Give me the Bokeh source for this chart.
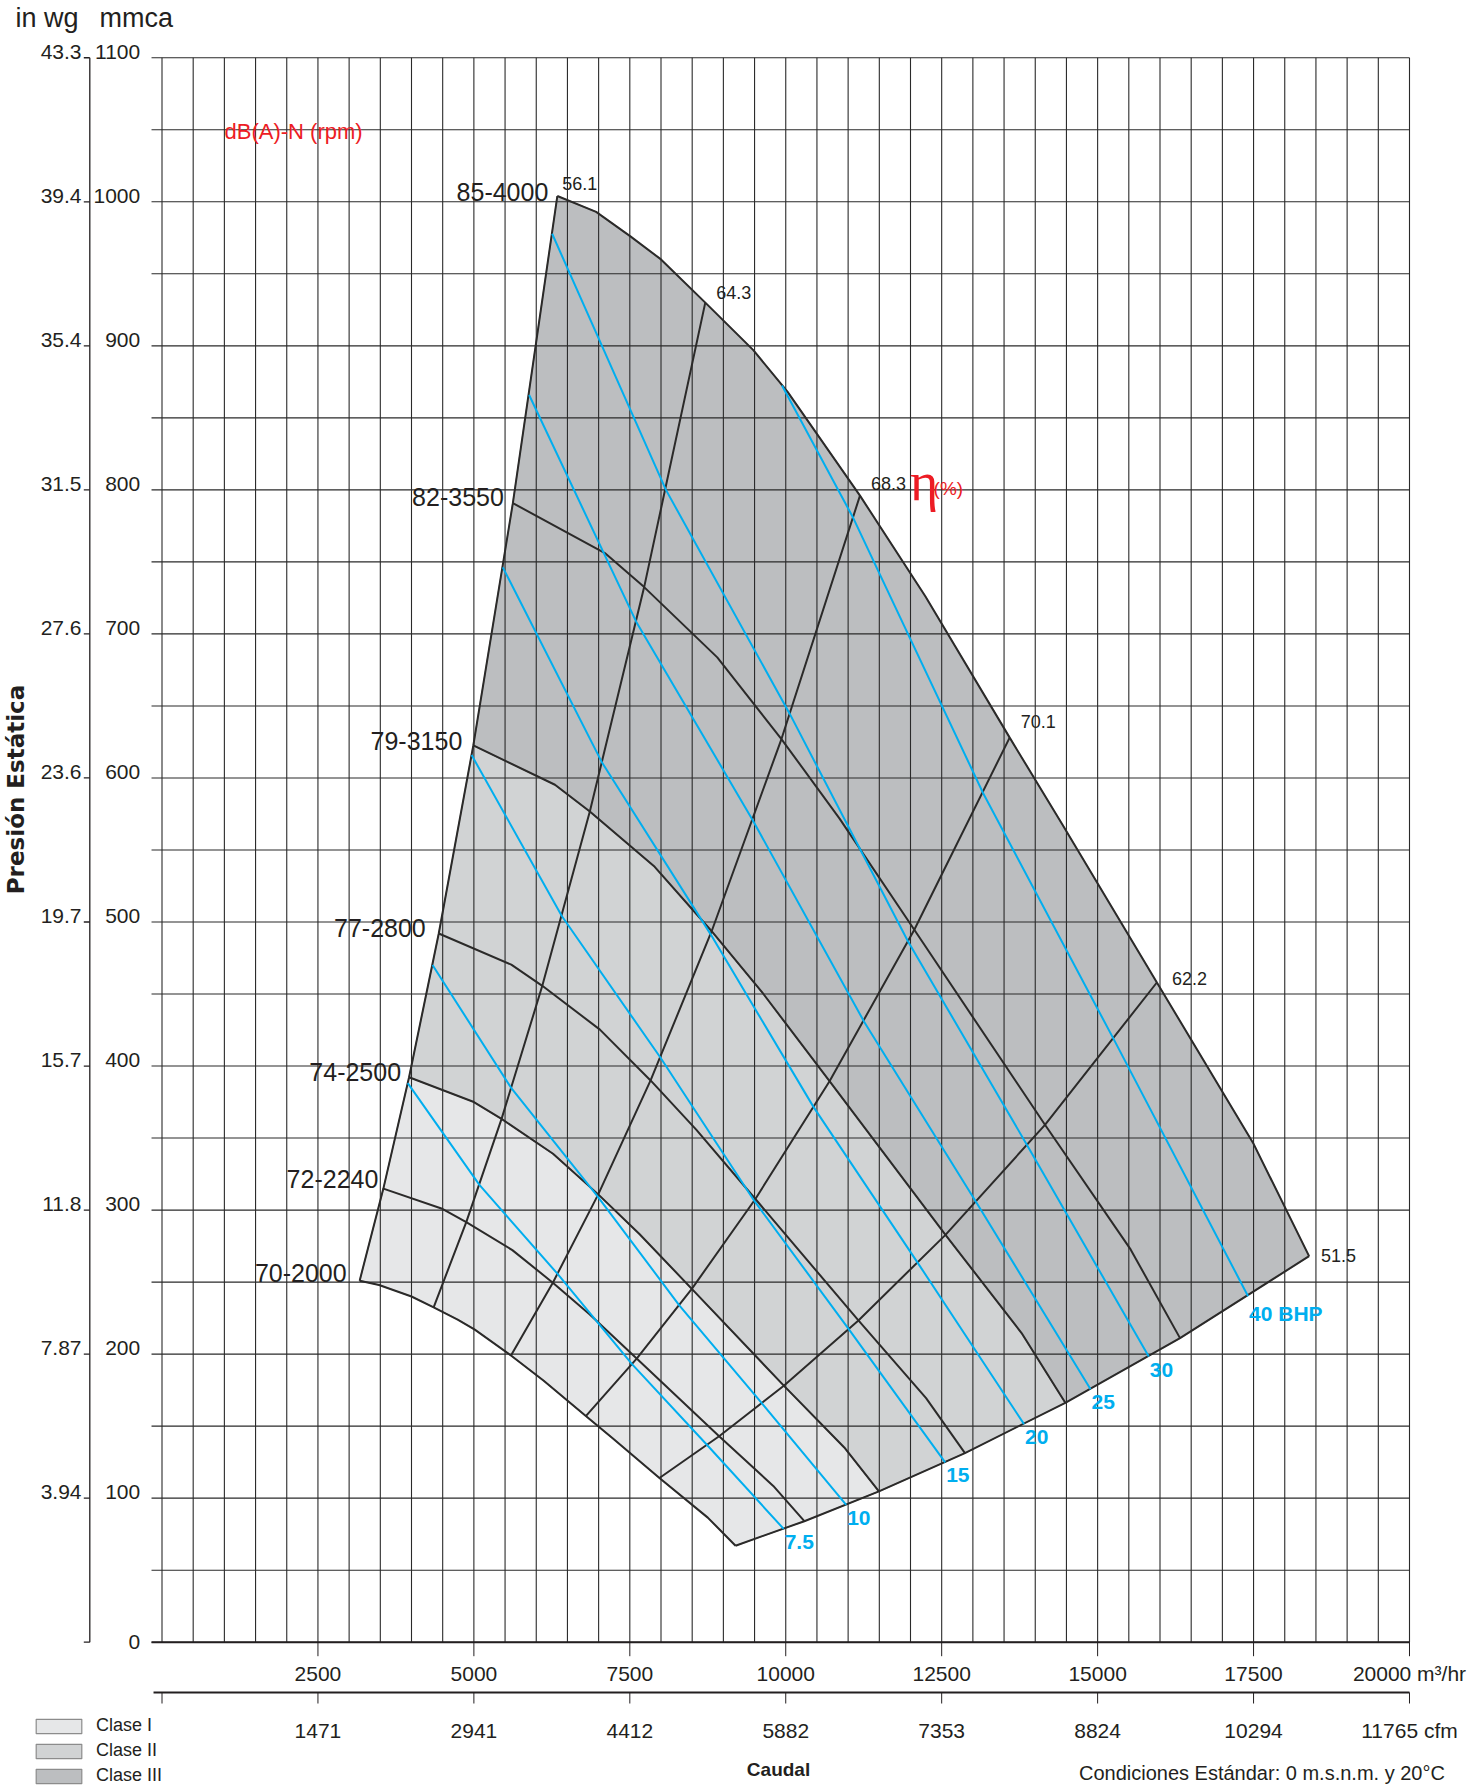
import math
from bokeh.plotting import figure
from bokeh.models import Range1d, Label, ColumnDataSource, Legend, LegendItem
from bokeh.core.properties import value
from bokeh.embed import file_html
from bokeh.resources import INLINE

# ---------------------------------------------------------------- data
# rpm curves (caudal m3/hr, presion estatica mmca)
rpm_labels = ["70-2000", "72-2240", "74-2500", "77-2800", "79-3150", "82-3550", "85-4000"]

q_70_2000 = [3169, 3480, 4000, 4355, 4740, 5015, 5595, 6120, 6795, 7215, 7975, 8750, 9195]
p_70_2000 = [251, 248, 240, 232.5, 224, 217, 199, 181.5, 157, 142, 114, 86.5, 67]

q_72_2240 = [3549, 4480, 4878, 5617, 6266, 6854, 7610, 8932, 9800, 10298]
p_72_2240 = [314.9, 301.1, 291.6, 272.2, 249.6, 227.7, 196.9, 143.0, 108.5, 84.0]

q_74_2500 = [3961, 5000, 5444, 6269, 6994, 7650, 8494, 9969, 10938, 11494]
p_74_2500 = [392.2, 375.0, 363.3, 339.1, 310.9, 283.6, 245.3, 178.1, 135.2, 104.7]

q_77_2800 = [4437, 5600, 6097, 7021, 7833, 8568, 9513, 11165, 12250, 12873]
p_77_2800 = [492.0, 470.4, 455.7, 425.3, 390.0, 355.7, 307.7, 223.4, 169.5, 131.3]

q_79_3150 = [4991, 6300, 6859, 7899, 8812, 9639, 10702, 12561, 13781, 14482]
p_79_3150 = [622.6, 595.3, 576.7, 538.3, 493.6, 450.2, 389.5, 282.8, 214.6, 166.2]

q_82_3550 = [5625, 7100, 7730, 8902, 9931, 10863, 12061, 14156, 15531, 16321]
p_82_3550 = [790.8, 756.1, 732.5, 683.7, 627.0, 571.8, 494.6, 359.2, 272.5, 211.1]

q_85_4000 = [6338, 6960, 7510, 8000, 8710, 9480, 10030, 11190, 12240, 13590, 14430, 15950, 17500, 18390]
p_85_4000 = [1004, 993, 976, 960, 930, 897, 868, 796, 726, 628, 568, 458, 346, 268]

# efficiency lines eta (%)
eff_labels = ["56.1", "64.3", "68.3", "70.1", "62.2", "51.5"]
eff_q_56_1 = [3169, 3549, 3961, 4437, 4991, 5625, 6338]
eff_p_56_1 = [251, 314.9, 392.2, 492.0, 622.6, 790.8, 1004]
eff_q_64_3 = [4355, 4878, 5444, 6097, 6859, 7730, 8710]
eff_p_64_3 = [232.5, 291.6, 363.3, 455.7, 576.7, 732.5, 930]
eff_q_68_3 = [5595, 6266, 6994, 7833, 8812, 9931, 11190]
eff_p_68_3 = [199, 249.6, 310.9, 390.0, 493.6, 627.0, 796]
eff_q_70_1 = [6795, 7610, 8494, 9513, 10702, 12061, 13590]
eff_p_70_1 = [157, 196.9, 245.3, 307.7, 389.5, 494.6, 628]
eff_q_62_2 = [7975, 8932, 9969, 11165, 12561, 14156, 15950]
eff_p_62_2 = [114, 143.0, 178.1, 223.4, 282.8, 359.2, 458]
eff_q_51_5 = [9195, 10298, 11494, 12873, 14482, 16321, 18390]
eff_p_51_5 = [67, 84.0, 104.7, 131.3, 166.2, 211.1, 268]

# brake horse power lines
bhp_labels = ["7.5", "10", "15", "20", "25", "30", "40 BHP"]
bhp_q_7_5 = [3940, 5089, 6342, 7535, 8739, 9966]
bhp_p_7_5 = [388.1, 317.5, 255.7, 193.1, 136.9, 78.7]
bhp_q_10 = [4337, 5601, 6980, 8293, 9619, 10969]
bhp_p_10 = [470.1, 384.6, 309.7, 233.9, 165.8, 95.3]
bhp_q_15 = [4964, 6412, 7990, 9494, 11010, 12556]
bhp_p_15 = [615.9, 504.0, 405.9, 306.5, 217.3, 124.9]
bhp_q_20 = [5464, 7057, 8794, 10449, 12119, 13820]
bhp_p_20 = [746.2, 610.5, 491.6, 371.3, 263.2, 151.4]
bhp_q_25 = [5886, 7602, 9473, 11256, 13054, 14887]
bhp_p_25 = [865.9, 708.5, 570.5, 430.8, 305.5, 175.6]
bhp_q_30 = [6255, 8079, 10067, 11961, 13872, 15820]
bhp_p_30 = [977.8, 800.0, 644.3, 486.5, 344.9, 198.3]
bhp_q_40 = [9940, 11081, 13165, 15268, 17412]
bhp_p_40 = [872.5, 780.6, 589.4, 417.8, 240.2]

class_labels = ["Clase I", "Clase II", "Clase III"]

# axes
mmca_ticks = [0, 100, 200, 300, 400, 500, 600, 700, 800, 900, 1000, 1100]
mmca_tick_labels = ["0", "100", "200", "300", "400", "500", "600", "700", "800", "900", "1000", "1100"]
inwg_tick_labels = ["", "3.94", "7.87", "11.8", "15.7", "19.7", "23.6", "27.6", "31.5", "35.4", "39.4", "43.3"]
flow_ticks = [2500, 5000, 7500, 10000, 12500, 15000, 17500, 20000]
flow_tick_labels = ["2500", "5000", "7500", "10000", "12500", "15000", "17500", "20000 m\u00b3/hr"]
cfm_ticks = [0, 2500, 5000, 7500, 10000, 12500, 15000, 17500, 20000]
cfm_tick_labels = ["", "1471", "2941", "4412", "5882", "7353", "8824", "10294", "11765 cfm"]

# ---------------------------------------------------------------- style
FONT = "Liberation Sans"
INK = "#231f20"
LINE = "#2b2a29"
BLUE = "#00aeef"
RED = "#ed1c24"
GRID = "#2a2a2a"
CLASS_FILL = ["#e6e7e8", "#d1d3d4", "#bcbec0"]

rpm_q = [q_70_2000, q_72_2240, q_74_2500, q_77_2800, q_79_3150, q_82_3550, q_85_4000]
rpm_p = [p_70_2000, p_72_2240, p_74_2500, p_77_2800, p_79_3150, p_82_3550, p_85_4000]
eff_q = [eff_q_56_1, eff_q_64_3, eff_q_68_3, eff_q_70_1, eff_q_62_2, eff_q_51_5]
eff_p = [eff_p_56_1, eff_p_64_3, eff_p_68_3, eff_p_70_1, eff_p_62_2, eff_p_51_5]
bhp_q = [bhp_q_7_5, bhp_q_10, bhp_q_15, bhp_q_20, bhp_q_25, bhp_q_30, bhp_q_40]
bhp_p = [bhp_p_7_5, bhp_p_10, bhp_p_15, bhp_p_20, bhp_p_25, bhp_p_30, bhp_p_40]

# the frame covers the whole canvas; the chart area is 0..20000 x 0..1100
W, H = 1483, 1786
p = figure(width=W, height=H, x_range=Range1d(-2589.2, 21186.4), y_range=Range1d(-100.18, 1139.75),
           x_axis_type=None, y_axis_type=None, output_backend="svg", toolbar_location=None,
           min_border=0)
p.outline_line_color = None
p.background_fill_color = "white"
p.border_fill_color = "white"

# class regions built from the envelope curves
surge_q = [c[0] for c in rpm_q]
surge_p = [c[0] for c in rpm_p]
right_q = [c[-1] for c in rpm_q]
right_p = [c[-1] for c in rpm_p]


def band(lo, up):
    xs = surge_q[lo:up + 1] + rpm_q[up][1:] + right_q[lo:up][::-1] + rpm_q[lo][1:-1][::-1]
    ys = surge_p[lo:up + 1] + rpm_p[up][1:] + right_p[lo:up][::-1] + rpm_p[lo][1:-1][::-1]
    return xs, ys


class_renderers = []
for (lo, up), col in zip([(0, 2), (2, 4), (4, 6)], CLASS_FILL):
    xs, ys = band(lo, up)
    class_renderers.append(p.patch(xs, ys, fill_color=col, line_color="#8c8c8c", line_width=1.2))

# grid (every 500 m3/hr and 50 mmca), horizontal lines poke out as ticks
gx = list(range(0, 20001, 500))
gy = list(range(0, 1101, 50))
p.segment(x0=gx, y0=0, x1=gx, y1=1100, line_color=GRID, line_width=1.1)
p.segment(x0=-168, y0=gy, x1=20000, y1=gy, line_color=GRID, line_width=1.1)

# flow axis (m3/hr) along y = 0
p.segment(x0=-168, y0=0, x1=20000, y1=0, line_color=INK, line_width=2)
p.segment(x0=flow_ticks, y0=0, x1=flow_ticks, y1=-9.72, line_color=INK, line_width=1)
p.text(x=flow_ticks, y=0, text=flow_tick_labels, text_font=value(FONT), text_font_size="21px",
       text_align="center", text_baseline="middle", y_offset=31.6, text_color=INK)

# cfm axis below
p.segment(x0=-136, y0=-34.92, x1=20000, y1=-34.92, line_color=INK, line_width=2)
p.segment(x0=cfm_ticks, y0=-34.92, x1=cfm_ticks, y1=-42.56, line_color=INK, line_width=1)
p.text(x=cfm_ticks, y=0, text=cfm_tick_labels, text_font=value(FONT), text_font_size="21px",
       text_align="center", text_baseline="middle", y_offset=88.3, text_color=INK)

# in wg axis
p.segment(x0=-1157.5, y0=0, x1=-1157.5, y1=1100, line_color=INK, line_width=1.3)
p.segment(x0=-1157.5, y0=mmca_ticks, x1=-1253.7, y1=mmca_ticks, line_color=INK, line_width=1.3)

# y tick labels (sitting just above the tick)
mm_dy = [0, -6, -6, -6, -6, -6, -6, -6, -6, -6, -6, -6]
p.text(x=-349.5, y=mmca_ticks, text=mmca_tick_labels, text_font=value(FONT), text_font_size="21px",
       text_align="right", text_baseline="middle", y_offset=mm_dy, text_color=INK)
p.text(x=-1290.6, y=mmca_ticks, text=inwg_tick_labels, text_font=value(FONT), text_font_size="21px",
       text_align="right", text_baseline="middle", y_offset=-6, text_color=INK)

# curves
for q, pr in zip(eff_q, eff_p):
    p.line(q, pr, line_color=LINE, line_width=2)
for q, pr in zip(rpm_q, rpm_p):
    p.line(q, pr, line_color=LINE, line_width=2)
for q, pr in zip(bhp_q, bhp_p):
    p.line(q, pr, line_color=BLUE, line_width=2)

# rpm labels
rpm_dx = [-13, -5, -8, -13, -11, -9, -9]
rpm_dy = [-8, -10, -5, -6, -4, -6, -4]
rsrc = ColumnDataSource(dict(x=surge_q, y=surge_p, t=rpm_labels, dx=rpm_dx, dy=rpm_dy))
p.text(x="x", y="y", text="t", source=rsrc, text_font=value(FONT), text_font_size="25px",
       text_align="right", text_baseline="middle", x_offset="dx", y_offset="dy", text_color=INK)

# efficiency labels at the top end of each line
eff_dx = [5, 11, 11, 11, 15, 12]
eff_dy = [-13, -10, -12, -16, -4, -1]
esrc = ColumnDataSource(dict(x=[q[-1] for q in eff_q], y=[pp[-1] for pp in eff_p], t=eff_labels,
                             dx=eff_dx, dy=eff_dy))
p.text(x="x", y="y", text="t", source=esrc, text_font=value(FONT), text_font_size="18px",
       text_align="left", text_baseline="middle", x_offset="dx", y_offset="dy", text_color=INK)

# BHP labels at the lower end of each blue line
bsrc = ColumnDataSource(dict(x=[q[-1] for q in bhp_q], y=[pp[-1] for pp in bhp_p], t=bhp_labels))
p.text(x="x", y="y", text="t", source=bsrc, text_font=value(FONT), text_font_size="21px",
       text_font_style="bold", text_align="left", text_baseline="top", x_offset=1, y_offset=6,
       text_color=BLUE)

# free texts (middle baseline, y = visual centre)
p.add_layout(Label(x=-2349, y=1127.6, text="in wg", text_font=FONT, text_font_size="27px",
                   text_color=INK, text_baseline="middle"))
p.add_layout(Label(x=-1002, y=1127.6, text="mmca", text_font=FONT, text_font_size="27px",
                   text_color=INK, text_baseline="middle"))
p.add_layout(Label(x=-2339, y=592, text="Presi\u00f3n Est\u00e1tica", angle=math.pi / 2,
                   text_font="DejaVu Sans", text_font_style="bold",
                   text_font_size="23px", text_color=INK, text_align="center",
                   text_baseline="middle"))
p.add_layout(Label(x=1002, y=1048.8, text="dB(A)-N (rpm)", text_font=FONT,
                   text_font_size="22px", text_color=RED, text_baseline="middle"))
p.add_layout(Label(x=11992, y=805.4, text="\u03b7", text_font="Liberation Serif",
                   text_font_size="54px", text_color=RED, text_baseline="middle"))
p.add_layout(Label(x=12370, y=801.2, text="(%)", text_font=FONT,
                   text_font_size="19px", text_color=RED, text_baseline="middle"))
p.add_layout(Label(x=9884, y=-88.7, text="Caudal", text_font=FONT, text_font_style="bold",
                   text_font_size="19px", text_color=INK, text_align="center",
                   text_baseline="middle"))
p.add_layout(Label(x=14701, y=-91.0, text="Condiciones Est\u00e1ndar: 0 m.s.n.m. y 20\u00b0C",
                   text_font=FONT, text_font_size="20px", text_color=INK,
                   text_baseline="middle"))

# legend of classes
legend = Legend(items=[LegendItem(label=lab, renderers=[r]) for lab, r in zip(class_labels, class_renderers)],
                location=(30, 0), orientation="vertical", glyph_width=57, glyph_height=18,
                label_standoff=9, label_text_font=FONT, label_text_font_size="18px",
                label_text_color=INK, spacing=4, padding=0, margin=0,
                border_line_color=None, background_fill_alpha=0)
p.add_layout(legend)

open("out.html", "w").write(file_html(p, INLINE))
